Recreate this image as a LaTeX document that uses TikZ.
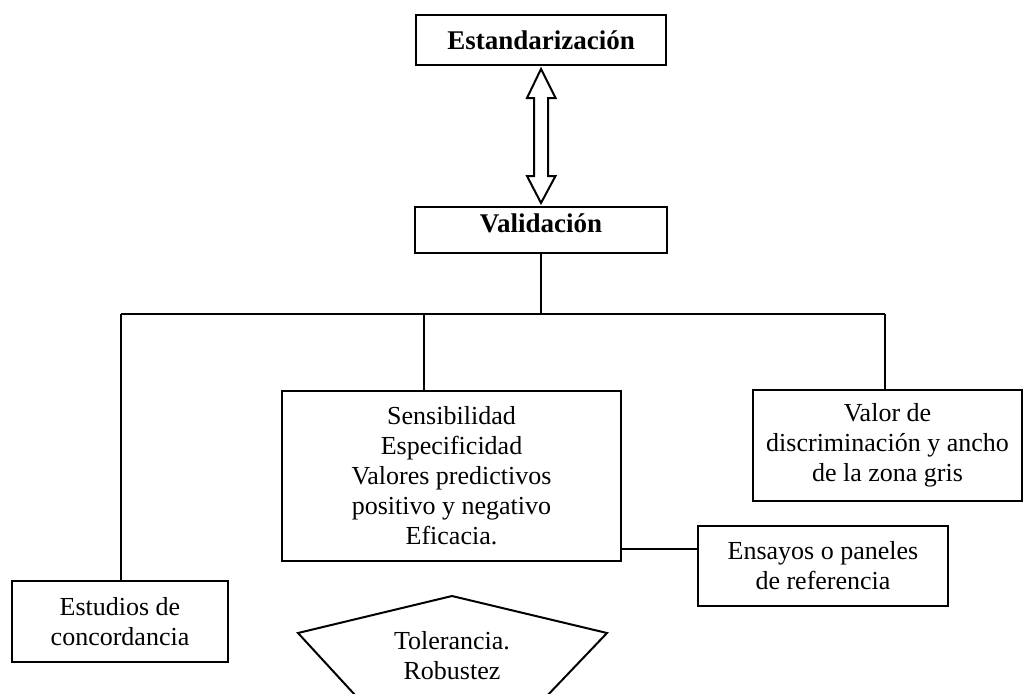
\documentclass[tikz,border=0pt]{standalone}
\usepackage{fontspec}
\setmainfont{Liberation Serif}
\usetikzlibrary{calc}
\begin{document}
\begin{tikzpicture}[x=1pt, y=-1pt, line width=2pt,
  txt/.style={font=\fontsize{26}{30}\selectfont, align=center},
  box/.style={txt, draw, rectangle, inner sep=0pt},
  bold/.style={font=\fontsize{27}{30}\selectfont\bfseries}]
\useasboundingbox (0,0) rectangle (1024,693);
\clip (0,0) rectangle (1024,693);

% main boxes
\node[box, bold, minimum width=250pt, minimum height=50pt] (std) at (541,40) {Estandarización};
\node[box, bold, minimum width=252pt, minimum height=46pt, text depth=13pt] (val) at (541,230) {Validación};

% branch boxes
\node[box, minimum width=339pt, minimum height=170pt] (big) at (451.5,476)
  {Sensibilidad\\Especificidad\\Valores predictivos\\positivo y negativo\\Eficacia.};
\node[box, minimum width=269pt, minimum height=111pt] (valor) at (887.5,445.5)
  {Valor de\\discriminación y ancho\\de la zona gris};
\node[box, minimum width=250pt, minimum height=80pt] (ens) at (823,566)
  {Ensayos o paneles\\de referencia};
\node[box, minimum width=216pt, minimum height=81pt] (est) at (120,621.5)
  {Estudios de\\concordancia};

% hollow double arrow between the two main boxes
\coordinate (at) at ($(std.south)+(0,3)$);
\coordinate (ab) at ($(val.north)+(0,-3)$);
\draw (at) -- ($(at)+(14.5,29)$) -- ($(at)+(7,29)$) -- ($(ab)+(7,-27)$)
  -- ($(ab)+(14.5,-27)$) -- (ab) -- ($(ab)+(-14,-27)$) -- ($(ab)+(-7,-27)$)
  -- ($(at)+(-7,29)$) -- ($(at)+(-14,29)$) -- cycle;

% tree connectors
\coordinate (busL) at (121,314);
\coordinate (busM) at (424,314);
\coordinate (busR) at (885,314);
\draw (val.south) -- (val.south |- busL);
\draw (busL) -- (busR);
\draw (busL) -- (busL |- est.north);
\draw (busM) -- (busM |- big.north);
\draw (busR) -- (busR |- valor.north);
\coordinate (c1) at ($(big.south east)+(0,-13)$);
\draw (c1) -- (c1 -| ens.west);

% pentagon, running off the lower edge
\coordinate (p1) at (298,633);
\coordinate (p2) at (452,596);
\coordinate (p3) at (607,633);
\coordinate (p4) at (524,720);
\coordinate (p5) at (378,720);
\draw (p1) -- (p2) -- (p3) -- (p4) -- (p5) -- cycle;
\node[txt, inner sep=0pt] (tol) at (452,656) {Tolerancia.\\Robustez};
\end{tikzpicture}
\end{document}
